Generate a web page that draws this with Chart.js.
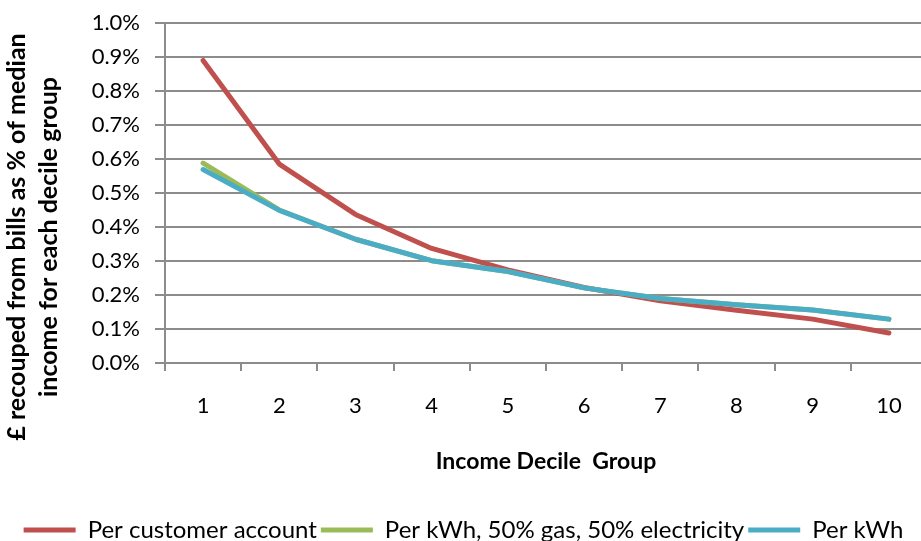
<!DOCTYPE html>
<html>
<head>
<meta charset="utf-8">
<script src="https://cdn.jsdelivr.net/npm/chart.js@4"></script>
<style>
  html, body { margin: 0; padding: 0; background: #fff; overflow: hidden; }
  #wrap { width: 921px; height: 541px; overflow: hidden; }
</style>
</head>
<body>
<div id="wrap"><canvas id="chart" width="927" height="552"></canvas></div>
<script>
// Values (percent of median income)
const deciles = ['1', '2', '3', '4', '5', '6', '7', '8', '9', '10'];
const perAccount = [0.89, 0.585, 0.437, 0.337, 0.274, 0.222, 0.183, 0.155, 0.129, 0.088];
const perKwhMix = [0.588, 0.45, 0.364, 0.301, 0.269, 0.221, 0.19, 0.171, 0.156, 0.129];
const perKwh = [0.569, 0.449, 0.364, 0.301, 0.269, 0.221, 0.19, 0.171, 0.156, 0.129];
const yTicks = [0, 0.1, 0.2, 0.3, 0.4, 0.5, 0.6, 0.7, 0.8, 0.9, 1.0];
const yTitle = ['£ recouped from bills as % of median', 'income for each decile group'];

const fontFamily = 'Lato, "Open Sans", sans-serif';
const axisGrey = '#8c8c8c';

function line(label, data, color, order) {
  return {
    label: label,
    data: data,
    order: order,
    borderColor: color,
    backgroundColor: color,
    borderWidth: 5,
    borderCapStyle: 'round',
    borderJoinStyle: 'round',
    pointRadius: 0,
    pointHoverRadius: 0,
    tension: 0,
    fill: false
  };
}

// Excel places the value-axis title lower than the plot centre, so draw it here
const yTitlePlugin = {
  id: 'yTitle',
  afterDraw(chart) {
    const c = chart.ctx;
    const area = chart.chartArea;
    const midY = (area.top + area.bottom) / 2 + 44;
    c.save();
    c.fillStyle = '#000';
    c.font = 'bold 25px ' + fontFamily;
    c.textAlign = 'center';
    c.textBaseline = 'middle';
    yTitle.forEach((txt, i) => {
      c.save();
      c.translate(17 + i * 32, midY);
      c.rotate(-Math.PI / 2);
      c.fillText(txt, 0, 0);
      c.restore();
    });
    c.restore();
  }
};

const ctx = document.getElementById('chart').getContext('2d');
const chart = new Chart(ctx, {
  type: 'line',
  data: {
    labels: deciles,
    datasets: [
      line('Per customer account', perAccount, '#C0504D', 3),
      line('Per kWh, 50% gas, 50% electricity', perKwhMix, '#9BBB59', 2),
      line('Per kWh', perKwh, '#4BACC6', 1)
    ]
  },
  plugins: [yTitlePlugin],
  options: {
    responsive: false,
    animation: false,
    layout: { padding: { left: 0, right: 0, top: 23, bottom: 0 } },
    scales: {
      x: {
        offset: true,
        grid: {
          offset: true,
          drawOnChartArea: false,
          drawTicks: true,
          tickLength: 8,
          color: axisGrey,
          lineWidth: 2
        },
        border: { color: axisGrey, width: 2 },
        ticks: {
          color: '#000',
          font: { family: fontFamily, size: 22 },
          padding: 22
        },
        title: {
          display: true,
          text: 'Income Decile  Group',
          color: '#000',
          font: { family: fontFamily, size: 23, weight: 'bold' },
          padding: { top: 6, bottom: 39 }
        }
      },
      y: {
        min: 0,
        max: 1.0,
        afterBuildTicks: function(axis) {
          axis.ticks = yTicks.map(v => ({ value: v }));
        },
        afterFit: function(axis) {
          // room for the hand-drawn title, and no extra label padding
          axis.width = 165;
          axis.paddingTop = 0;
          axis.paddingBottom = 0;
        },
        grid: {
          color: axisGrey,
          lineWidth: 2,
          drawTicks: true,
          tickLength: 10
        },
        border: { color: axisGrey, width: 2 },
        ticks: {
          color: '#000',
          font: { family: fontFamily, size: 22 },
          padding: 15,
          callback: function(v) { return Number(v).toFixed(1) + '%'; }
        }
      }
    },
    plugins: {
      legend: {
        position: 'bottom',
        labels: {
          usePointStyle: true,
          pointStyle: 'line',
          pointStyleWidth: 52,
          color: '#000',
          font: { family: fontFamily, size: 24 },
          padding: 4,
          sort: function(a, b) { return a.datasetIndex - b.datasetIndex; }
        }
      },
      tooltip: { enabled: false }
    }
  }
});
</script>
</body>
</html>
